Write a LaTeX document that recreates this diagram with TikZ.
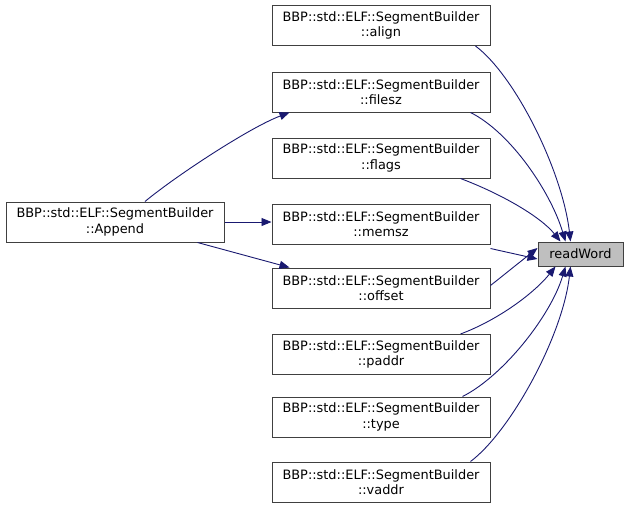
\documentclass[tikz,border=0pt]{standalone}
\usepackage{fontspec}
\setmainfont{DejaVu Sans}
\usetikzlibrary{arrows.meta, positioning}
\definecolor{edgeblue}{RGB}{25,25,112}
\definecolor{nodegray}{RGB}{191,191,191}

\begin{document}
\begin{tikzpicture}[x=1pt, y=-1pt,
  fn/.style={draw=black!75, line width=1pt, fill=white, align=center, minimum width=218pt,
    minimum height=40pt, inner sep=0pt, font=\fontsize{12.9}{15.5}\selectfont},
  call/.style={draw=edgeblue, line width=0.9pt, -{Triangle[length=10pt,width=8pt,fill=edgeblue]}}]
  \useasboundingbox (0,0) rectangle (628,509);
  % callers
  \node[fn] (append) at (115,222) {BBP::std::ELF::SegmentBuilder\\::Append};
  \node[fn] (align)  at (381,25.5) {BBP::std::ELF::SegmentBuilder\\::align};
  \node[fn] (filesz) at (381,92) {BBP::std::ELF::SegmentBuilder\\::filesz};
  \node[fn] (flags)  at (381,158) {BBP::std::ELF::SegmentBuilder\\::flags};
  \node[fn] (memsz)  at (381,224) {BBP::std::ELF::SegmentBuilder\\::memsz};
  \node[fn] (offset) at (381,288) {BBP::std::ELF::SegmentBuilder\\::offset};
  \node[fn] (paddr)  at (381,354.5) {BBP::std::ELF::SegmentBuilder\\::paddr};
  \node[fn] (type)   at (381,417) {BBP::std::ELF::SegmentBuilder\\::type};
  \node[fn] (vaddr)  at (381,482) {BBP::std::ELF::SegmentBuilder\\::vaddr};
  % callee
  \node[fn, fill=nodegray, minimum width=85pt, minimum height=24pt] (readword) at (580.5,254) {readWord};
  % Append edges
  \draw[call] ([xshift=30pt]append.north) .. controls +(30,-25) and +(-40,15) .. ([xshift=18pt]filesz.south west);
  \draw[call] (append.east) -- (append.east -| memsz.west);
  \draw[call] ([xshift=-27pt]append.south east) -- ([xshift=18pt]offset.north west);
  % readWord edges
  \draw[call] ([xshift=-15pt]align.south east) .. controls +(40,30) and +(-8,-70) .. ([xshift=-10pt]readword.north);
  \draw[call] ([xshift=-20pt]filesz.south east) .. controls +(40,20) and +(-15,-50) .. ([xshift=-15pt]readword.north);
  \draw[call] ([xshift=-30pt]flags.south east) .. controls +(40,15) and +(-20,-25) .. ([xshift=-20pt]readword.north);
  \draw[call] ([yshift=-4pt]memsz.south east) -- ([yshift=-5pt]readword.west);
  \draw[call] ([yshift=-18pt]offset.north east) -- ([yshift=6pt]readword.west);
  \draw[call] ([xshift=-30pt]paddr.north east) .. controls +(40,-15) and +(-20,25) .. ([xshift=-25pt]readword.south);
  \draw[call] ([xshift=-28pt]type.north east) .. controls +(40,-20) and +(-15,50) .. ([xshift=-15pt]readword.south);
  \draw[call] ([xshift=-20pt]vaddr.north east) .. controls +(40,-30) and +(-8,70) .. ([xshift=-10pt]readword.south);
\end{tikzpicture}
\end{document}
